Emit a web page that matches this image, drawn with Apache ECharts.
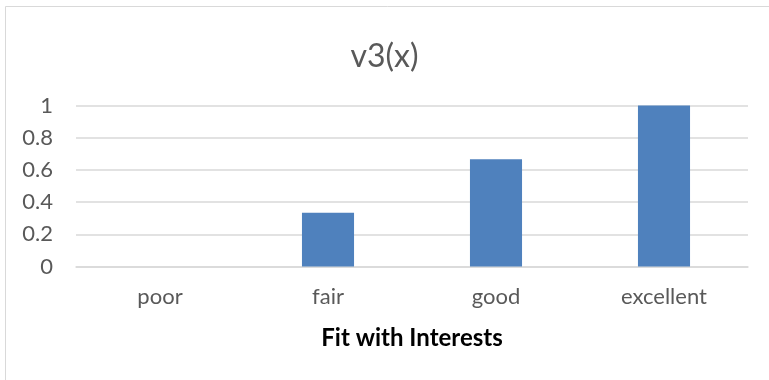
<!DOCTYPE html>
<html>
<head>
<meta charset="utf-8">
<script src="https://cdn.jsdelivr.net/npm/echarts@6/dist/echarts.min.js"></script>
<style>html,body{margin:0;padding:0;background:#fff;}#c{width:769px;height:380px;}</style>
</head>
<body>
<div id="c"></div>
<script>
const categories = ['poor', 'fair', 'good', 'excellent'];
const values = [0, 0.3333, 0.6667, 1];
const yTicks = [0, 0.2, 0.4, 0.6, 0.8, 1];

const chart = echarts.init(document.getElementById('c'));
const font = 'Lato, Carlito, Calibri, sans-serif';
chart.setOption({
  animation: false,
  backgroundColor: '#fff',
  textStyle: { fontFamily: font },
  graphic: [{
    type: 'rect', shape: { x: 5.5, y: 6.5, width: 900, height: 900 },
    style: { fill: 'none', stroke: '#D9D9D9', lineWidth: 1 }, silent: true, z: -1
  }],
  title: {
    text: 'v3(x)', left: 'center', top: 36,
    textStyle: { fontFamily: font, fontSize: 32, fontWeight: 'normal', color: '#595959' }
  },
  grid: { left: 76, right: 21, top: 105.5, bottom: 113.5, containLabel: false },
  xAxis: {
    type: 'category', data: categories,
    name: 'Fit with Interests', nameLocation: 'middle', nameGap: 60,
    nameTextStyle: { fontFamily: font, fontSize: 24, fontWeight: 'bold', color: '#000' },
    axisLine: { show: true, lineStyle: { color: '#D9D9D9', width: 1.5 } },
    axisTick: { show: false },
    axisLabel: { fontFamily: font, fontSize: 22, color: '#595959', margin: 19 }
  },
  yAxis: {
    type: 'value', min: 0, max: 1, interval: 0.2,
    axisLine: { show: false }, axisTick: { show: false },
    axisLabel: {
      fontFamily: font, fontSize: 22, color: '#595959', margin: 23,
      formatter: v => { const t = yTicks.find(x => Math.abs(x - v) < 1e-9); return t === undefined ? '' : String(t); }
    },
    splitLine: { lineStyle: { color: '#D9D9D9', width: 1.5 } }
  },
  series: [{
    type: 'bar', data: values, barWidth: '31%',
    itemStyle: { color: '#4F81BD' }
  }]
});
</script>
</body>
</html>
